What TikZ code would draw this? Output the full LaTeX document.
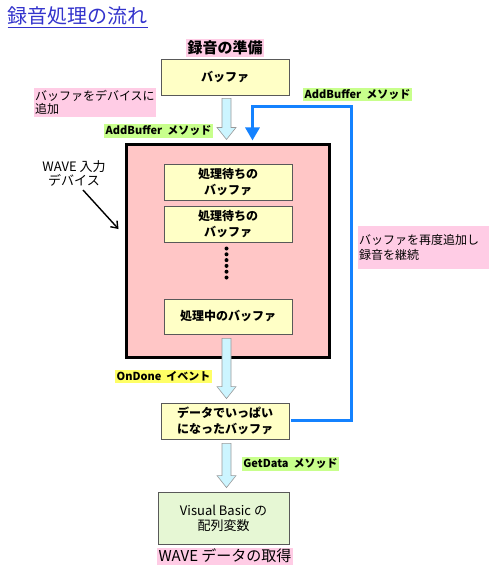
\documentclass[tikz,border=0pt]{standalone}
\usepackage{fontspec}
\setmainfont{Noto Sans CJK JP}
\usetikzlibrary{arrows.meta,calc}
\definecolor{titleblue}{RGB}{51,51,204}
\definecolor{lblpink}{RGB}{255,204,229}
\definecolor{lblgreen}{RGB}{200,255,140}
\definecolor{lblyellow}{RGB}{255,255,102}
\definecolor{boxyellow}{RGB}{255,255,198}
\definecolor{devpink}{RGB}{255,198,198}
\definecolor{vbgreen}{RGB}{230,247,212}
\definecolor{fatcyan}{RGB}{204,245,255}
\definecolor{loopblue}{RGB}{20,130,255}
\newcommand\fatarrow[2]{\path[fatarr] let \p1=(#1), \p2=(#2) in
  (\x1-4.5pt,\y1) -- (\x1+4.5pt,\y1) -- (\x1+4.5pt,\y2+12pt) -- (\x1+9.5pt,\y2+12pt)
  -- (\x1,\y2) -- (\x1-9.5pt,\y2+12pt) -- (\x1-4.5pt,\y2+12pt) -- cycle;}
\begin{document}
\begin{tikzpicture}[x=1pt,y=-1pt,
  bufbox/.style={draw=gray!70!black,line width=0.8pt,fill=boxyellow,minimum width=128pt,minimum height=36pt,inner sep=0pt,align=center,font=\fontsize{12}{16}\selectfont\bfseries},
  pinklbl/.style={fill=lblpink,inner sep=1.5pt},
  greenlbl/.style={fill=lblgreen,inner sep=1.5pt,font=\fontsize{11}{13}\selectfont\bfseries},
  yellowlbl/.style={fill=lblyellow,inner sep=1.5pt,font=\fontsize{11}{13}\selectfont\bfseries},
  plain/.style={inner sep=0pt,align=center,font=\fontsize{13}{14}\selectfont},
  fatarr/.style={fill=fatcyan,draw=gray!80,line width=0.6pt},
  looparr/.style={draw=loopblue,line width=3pt,-{Triangle[width=14pt,length=13pt]}},
  blackarr/.style={draw=black,line width=1.4pt,-{Straight Barb[length=6pt,width=9pt]}}]
\useasboundingbox (0,0) rectangle (500,572);
% title
\node[anchor=base west,inner sep=0pt,text=titleblue,font=\fontsize{20}{22}\selectfont] (title) at (7.5,24) {録音処理の流れ};
\draw[titleblue,line width=1.3pt] ($(title.base west)+(0,3.5)$) -- ($(title.base east)+(0,3.5)$);
% device box
\node[draw=black,line width=3pt,fill=devpink,minimum width=203pt,minimum height=212pt,inner sep=0pt] (dev) at (227.5,251) {};
% boxes
\node[bufbox] (buf) at (225,77) {バッファ};
\node[bufbox] (w1) at (228,182) {処理待ちの\\バッファ};
\node[bufbox] (w2) at (228,224) {処理待ちの\\バッファ};
\node[bufbox,minimum height=35pt] (cur) at (228,316.5) {処理中のバッファ};
\node[bufbox] (full) at (225,421) {データでいっぱい\\になったバッファ};
\node[bufbox,fill=vbgreen,minimum width=131pt,minimum height=52pt,font=\fontsize{13}{15}\selectfont] (vb) at (223.5,518) {Visual Basic の\\配列変数};
% dots
\foreach \i in {0,...,5} \fill (226.5,248.5+\i*5.8) circle (2pt);
% labels
\node[pinklbl,font=\fontsize{15}{17}\selectfont\bfseries] (prep) at (225,48) {録音の準備};
\node[pinklbl,font=\fontsize{12}{13.5}\selectfont,align=left,text width=119pt,minimum height=29pt] (addlbl) at (94.5,102.5) {バッファをデバイスに\\追加};
\node[greenlbl] (ab1) at (158.5,131) {AddBuffer\ \ メソッド};
\node[greenlbl] (ab2) at (357.5,94.5) {AddBuffer\ \ メソッド};
\node[plain] (wave) at (74,173) {WAVE 入力\\デバイス};
\node[pinklbl,font=\fontsize{12}{15}\selectfont,align=left,text width=128pt,minimum height=43pt] (readd) at (423,247.5) {バッファを再度追加し\\録音を継続};
\node[yellowlbl] (ondone) at (163.5,376.5) {OnDone\ \ イベント};
\node[greenlbl] (getdata) at (290.5,464) {GetData\ \ メソッド};
\node[pinklbl,font=\fontsize{15}{17}\selectfont] (wavedata) at (225,556) {WAVE データの取得};
% fat arrows
\fatarrow{$(buf.south)+(1.5,3)$}{$(dev.north)+(-0.5,-4)$}
\fatarrow{$(cur.south)+(-1.5,4)$}{$(full.north)+(1.5,-4)$}
\fatarrow{$(full.south)+(1.5,4)$}{$(vb.north)+(3,-4)$}
% loop arrow
\coordinate (loopR) at (351,107);
\coordinate (loopL) at (252.5,107);
\draw[looparr] ($(full.east)+(2,-1)$) -| (loopR) -- (loopL) -- ($(loopL |- dev.north)+(0,-3)$);
% device pointer
\coordinate (ptrS) at (83,190);
\draw[blackarr] (ptrS) -- ($(dev.west)+(-6,-22)$);
\end{tikzpicture}
\end{document}
